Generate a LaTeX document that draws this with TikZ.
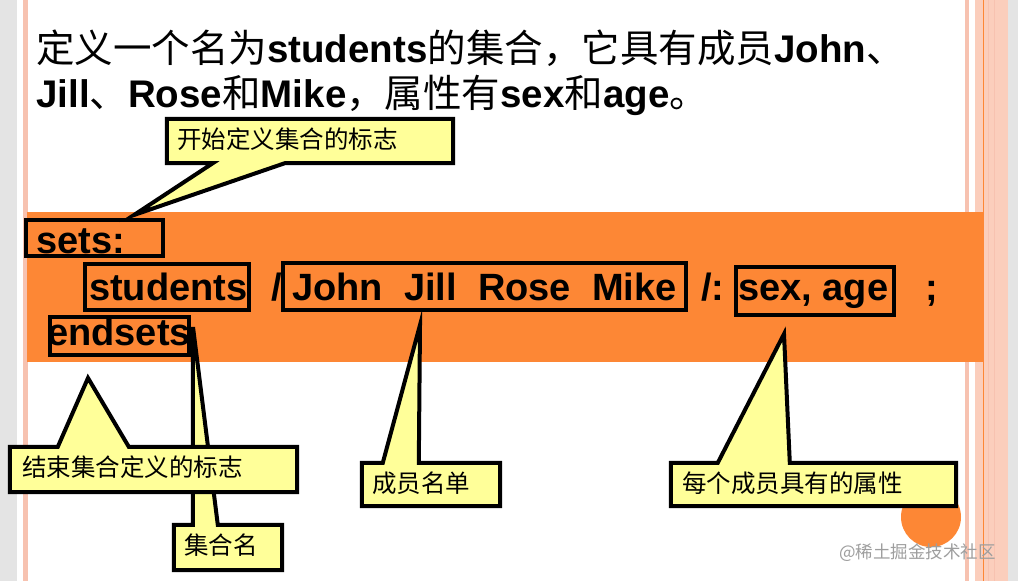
\documentclass[tikz,border=0pt]{standalone}
\usepackage{fontspec}
\setmainfont{Liberation Sans}
\newfontfamily\cjk{Noto Sans CJK SC}
\usetikzlibrary{calc}
\definecolor{bandorange}{RGB}{253,135,53}
\definecolor{pinkline}{RGB}{247,194,176}
\definecolor{pinkband}{RGB}{251,206,188}
\definecolor{edgegray}{RGB}{228,228,228}
\definecolor{calloutyellow}{RGB}{255,255,153}
\begin{document}
\begin{tikzpicture}[x=1pt,y=-1pt,
  codebox/.style={draw=black, line width=3.5pt, rectangle, inner sep=0pt},
  codetext/.style={font=\fontsize{38}{40}\selectfont\bfseries, inner sep=0pt, anchor=base west},
  titletext/.style={font=\fontsize{38.5}{45}\selectfont, inner sep=0pt, anchor=base west},
  calloutbody/.style={rectangle, inner sep=0pt},
  callout/.style={fill=calloutyellow, draw=black, line width=4pt, line join=miter},
  callouttext/.style={font=\cjk\fontsize{24.5}{26}\selectfont, inner sep=0pt, anchor=west},
  watermark/.style={font=\cjk\fontsize{17.5}{19}\selectfont, text=black!38, inner sep=0pt, anchor=west}]
\useasboundingbox (0,0) rectangle (1018,581);
\fill[white] (0,0) rectangle (1018,581);
% frame
\fill[edgegray] (0,0) rectangle (17,581);
\fill[pinkline] (23,0) rectangle (28,581);
\fill[pinkline] (965,0) rectangle (969,581);
\fill[pinkband] (975,0) rectangle (1008,581);
\draw[pinkline, line width=0.8pt] (988,0) -- (988,581);
\draw[pinkline, line width=0.8pt] (994,0) -- (994,581);
\draw[bandorange, line width=0.8pt] (983,0) -- (983,581);
\fill[edgegray] (1008,0) rectangle (1018,581);

% title
\node[titletext] (title1) at (36,62) {{\cjk 定义一个名为}\textbf{students}{\cjk 的集合，它具有成员}\textbf{John}{\cjk 、}};
\node[titletext] (title2) at (36,107) {\textbf{Jill}{\cjk 、}\textbf{Rose}{\cjk 和}\textbf{Mike}{\cjk ，属性有}\textbf{sex}{\cjk 和}\textbf{age}{\cjk 。}};

% orange band
\fill[bandorange] (27,212) rectangle (983,362);

% code boxes
\node[codebox, minimum width=137pt, minimum height=36pt] (bsets) at (94.5,238) {};
\node[codebox, minimum width=164pt, minimum height=46pt] (bstud) at (167,287) {};
\node[codebox, minimum width=403pt, minimum height=47pt] (bmemb) at (484.5,286.5) {};
\node[codebox, minimum width=158pt, minimum height=48pt] (battr) at (815,291) {};
\node[codebox, minimum width=139pt, minimum height=38pt] (bend) at (119.5,336) {};

% code text
\node[codetext] (tsets) at (36,253) {sets:};
\node[codetext] (tstud) at (89,300) {students};
\node[codetext] (tsl1) at (271,300) {/};
\node[codetext] (tmemb) at (292,300) {John\ \ Jill\ \ Rose\ \ Mike};
\node[codetext] (tsl2) at (701,300) {/:};
\node[codetext] (tattr) at (738,300) {sex, age};
\node[codetext] (tsemi) at (925,300) {;};
\node[codetext] (tend) at (47,345) {endsets};

% decorative circle
\fill[bandorange] (931,517) circle (30);

% callout 1: start of set definition
\node[calloutbody, minimum width=286pt, minimum height=44pt] (c1) at (310,141) {};
\coordinate (p1) at (134,215);
\filldraw[callout] (c1.north west) -- (c1.north east) -- (c1.south east)
  -- ($(c1.south west)+(118,0)$) -- (p1) -- ($(c1.south west)+(46,0)$) -- (c1.south west) -- cycle;
\node[callouttext] (l1) at (177,139) {开始定义集合的标志};

% callout 3: set name
\node[calloutbody, minimum width=108pt, minimum height=45pt] (c3) at (228,547.5) {};
\coordinate (p3) at (193,327);
\filldraw[callout] (c3.south west) -- (c3.north west) -- ($(c3.north west)+(19,0)$) -- (p3)
  -- ($(c3.north west)+(44,0)$) -- (c3.north east) -- (c3.south east) -- cycle;
\node[callouttext] (l3) at (184,545) {集合名};

% callout 2: end of set definition
\node[calloutbody, minimum width=287pt, minimum height=45pt] (c2) at (153.5,469.5) {};
\coordinate (p2) at (88,378);
\filldraw[callout] (c2.south west) -- (c2.north west) -- ($(c2.north west)+(48,0)$) -- (p2)
  -- ($(c2.north west)+(119,0)$) -- (c2.north east) -- (c2.south east) -- cycle;
\node[callouttext] (l2) at (22,467) {结束集合定义的标志};

% callout 4: member list
\node[calloutbody, minimum width=138pt, minimum height=43pt] (c4) at (431,484.5) {};
\coordinate (p4) at (420,325);
\filldraw[callout] (c4.south west) -- (c4.north west) -- ($(c4.north west)+(21,0)$) -- (p4)
  -- ($(c4.north west)+(57,0)$) -- (c4.north east) -- (c4.south east) -- cycle;
\node[callouttext] (l4) at (372,483) {成员名单};

% callout 5: attributes
\node[calloutbody, minimum width=285pt, minimum height=43pt] (c5) at (813.5,484.5) {};
\coordinate (p5) at (784,334);
\filldraw[callout] (c5.south west) -- (c5.north west) -- ($(c5.north west)+(47,0)$) -- (p5)
  -- ($(c5.north west)+(119,0)$) -- (c5.north east) -- (c5.south east) -- cycle;
\node[callouttext] (l5) at (682,483) {每个成员具有的属性};

% watermark
\node[watermark] (wm) at (839,553) {@稀土掘金技术社区};
\end{tikzpicture}
\end{document}
